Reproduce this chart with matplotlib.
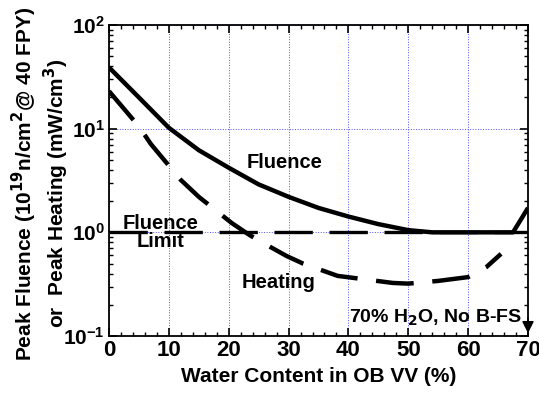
import numpy as np
import matplotlib.pyplot as plt
from matplotlib.ticker import MultipleLocator, LogLocator, NullFormatter

plt.rcParams['font.family'] = ['Liberation Sans', 'DejaVu Sans']
plt.rcParams['font.weight'] = 'bold'
plt.rcParams['mathtext.default'] = 'bf'

fluence_x = [0, 5, 10, 15, 20, 25, 30, 35, 40, 45, 50, 54, 60, 67.5, 70]
fluence_y = [39, 20, 10.2, 6.2, 4.2, 2.9, 2.2, 1.72, 1.42, 1.2, 1.05, 1.0, 1.0, 1.0, 1.72]

heating_x = [0, 5, 7, 12, 15, 20.5, 23.5, 27, 29.7, 32.4, 38.2, 41.4, 47.4, 50, 55, 60, 63, 65.5]
heating_y = [23, 10.5, 7.1, 3.2, 2.2, 1.23, 0.94, 0.72, 0.59, 0.50, 0.38, 0.36, 0.325, 0.32, 0.34, 0.37, 0.46, 0.62]

limit_x = [0, 70]
limit_y = [1.0, 1.0]

W, H = 539, 396
fig = plt.figure(figsize=(W / 100, H / 100), dpi=100)
ax = fig.add_axes([109/W, 1 - 336/H, 419/W, 311/H])

ax.plot(fluence_x, fluence_y, color='black', lw=3.2, solid_capstyle='butt')
ax.plot(heating_x, heating_y, color='black', lw=3.2, dashes=(8.5, 4.2), dash_capstyle='butt')
ax.plot(limit_x, limit_y, color='black', lw=2.4, dashes=(11.5, 5))

ax.set_yscale('log')
ax.set_xlim(0, 70)
ax.set_ylim(0.1, 100)

ax.xaxis.set_major_locator(MultipleLocator(10))
ax.xaxis.set_minor_locator(MultipleLocator(2))
ax.yaxis.set_major_locator(LogLocator(base=10, numticks=10))
ax.yaxis.set_minor_locator(LogLocator(base=10, subs=np.arange(2, 10), numticks=10))
ax.yaxis.set_minor_formatter(NullFormatter())
ax.tick_params(which='both', direction='in', top=True, right=True, pad=3)
ax.tick_params(axis='x', labelsize=16)
ax.tick_params(axis='y', labelsize=15)
ax.tick_params(which='major', length=6, width=1.2)
ax.tick_params(which='minor', length=3, width=1)
for lab in ax.get_xticklabels() + ax.get_yticklabels():
    lab.set_fontweight('bold')

ax.grid(True, which='major', color='#5050ff', lw=0.7, ls=':')
for s in ax.spines.values():
    s.set_linewidth(1.3)

ax.set_xlabel('Water Content in OB VV (%)', fontsize=15, fontweight='bold', labelpad=4)

# two-line y label placed by hand
fig.text(24/W, 1 - 184/H, 'Peak Fluence (10$^{19}$n/cm$^2$@ 40 FPY)', rotation=90,
         fontsize=15, fontweight='bold', ha='center', va='center')
fig.text(56/W, 1 - 193/H, 'or  Peak Heating (mW/cm$^3$)', rotation=90,
         fontsize=15, fontweight='bold', ha='center', va='center')

ax.text(29.3, 4.7, 'Fluence', fontsize=14.5, fontweight='bold', ha='center', va='center')
ax.text(28.4, 0.33, 'Heating', fontsize=14.5, fontweight='bold', ha='center', va='center')
ax.text(8.6, 0.99, 'Fluence\nLimit', fontsize=14.5, fontweight='bold', ha='center', va='center',
        linespacing=0.95)
ax.text(69, 0.15, '70% H$_2$O, No B-FS', fontsize=14, fontweight='bold', ha='right', va='center')
ax.annotate('', xy=(70, 0.1), xytext=(70, 0.16),
            arrowprops=dict(arrowstyle='-|>', color='black', lw=1, mutation_scale=18),
            annotation_clip=False)

fig.savefig('out.png', dpi=100)
